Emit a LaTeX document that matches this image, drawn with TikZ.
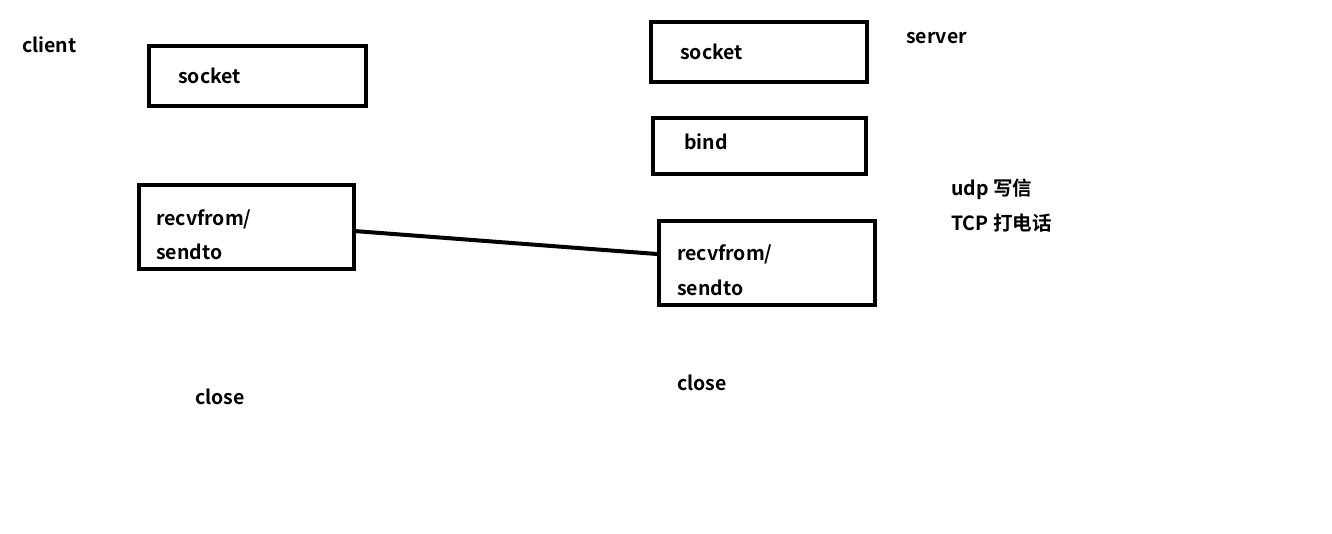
\documentclass[tikz,border=0pt]{standalone}
\usepackage{fontspec}
\setmainfont{Noto Sans CJK SC}[BoldFont={* Bold}]
\begin{document}
\begin{tikzpicture}[x=1pt,y=-1pt,
  box/.style={draw=black,line width=4pt,rectangle,outer sep=0pt,inner sep=0pt},
  lbl/.style={anchor=west,inner sep=0pt,font=\fontsize{19.5}{22}\selectfont\bfseries}]
\useasboundingbox[fill=white] (0,0) rectangle (1332,533);
% boxes
\node[box,minimum width=217pt,minimum height=60pt] (csock) at (257.5,76) {};
\node[box,minimum width=215pt,minimum height=84pt] (crecv) at (246.5,227) {};
\node[box,minimum width=216pt,minimum height=60pt] (ssock) at (759,52) {};
\node[box,minimum width=213pt,minimum height=56pt] (bind) at (759.5,146) {};
\node[box,minimum width=216pt,minimum height=84pt] (srecv) at (767,263) {};
% texts
\node[lbl] (tclient) at (22,45) {client};
\node[lbl] (tcsock) at (178,76) {socket};
\node[lbl] (tcr1) at (156,219) {recvfrom/};
\node[lbl] (tcr2) at (156,252) {sendto};
\node[lbl] (tcclose) at (195,397) {close};
\node[lbl] (tserver) at (906,38) {server};
\node[lbl] (tssock) at (680,52) {socket};
\node[lbl] (tbind) at (684,142) {bind};
\node[lbl] (tsr1) at (677,254) {recvfrom/};
\node[lbl] (tsr2) at (677,288) {sendto};
\node[lbl] (tsclose) at (677,383) {close};
\node[lbl] (tudp) at (951,189) {udp 写信};
\node[lbl] (ttcp) at (951,223) {TCP 打电话};
% connector
\draw[line width=4pt] ([yshift=-4pt]crecv.east) -- ([xshift=-2pt,yshift=9pt]srecv.west);
\end{tikzpicture}
\end{document}
